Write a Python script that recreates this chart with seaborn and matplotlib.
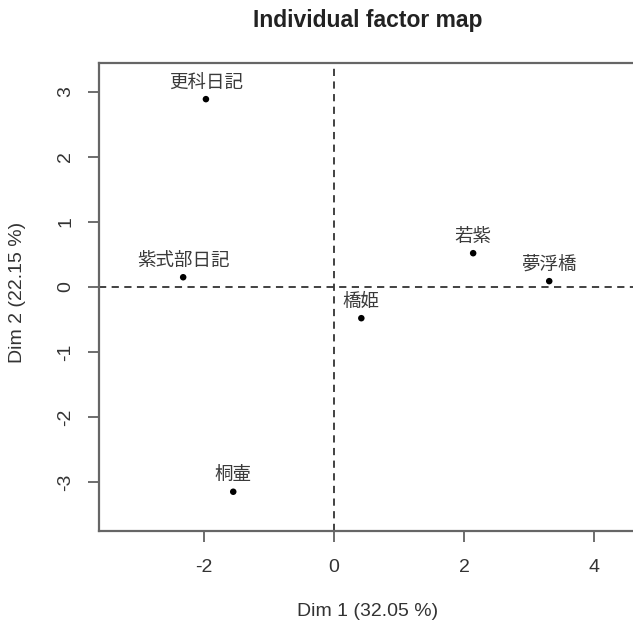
import matplotlib
matplotlib.use("Agg")
import matplotlib.pyplot as plt
import seaborn as sns
import pandas as pd

names = ["更科日記", "紫式部日記", "若紫", "夢浮橋", "橋姫", "桐壷"]
dim1 = [-1.97, -2.32, 2.14, 3.31, 0.42, -1.55]
dim2 = [2.89, 0.15, 0.52, 0.09, -0.48, -3.15]
xticks = [-2, 0, 2, 4]
yticks = [-3, -2, -1, 0, 1, 2, 3]

df = pd.DataFrame({"name": names, "Dim1": dim1, "Dim2": dim2})

sns.set_style("white")
plt.rcParams["font.family"] = ["Liberation Sans", "Noto Sans CJK JP", "DejaVu Sans"]

W, H = 633, 630
fig = plt.figure(figsize=(W / 100, H / 100), dpi=100)
L, R, T, B = 99.3, 637, 63, 531
ax = fig.add_axes([L / W, 1 - B / H, (R - L) / W, (B - T) / H])

ax.axhline(0, color="#333333", lw=1.3, ls=(0, (4, 3)), zorder=1)
ax.axvline(0, color="#333333", lw=1.3, ls=(0, (4, 3)), zorder=1)

sns.scatterplot(data=df, x="Dim1", y="Dim2", ax=ax, color="black", s=22,
                edgecolor="none", zorder=3, legend=False)

for n, x, y in zip(names, dim1, dim2):
    ax.annotate(n, (x, y), xytext=(0, 11.8), textcoords="offset points",
                ha="center", va="center", fontsize=13.3, color="#3a3a3a",
                family=["Noto Sans CJK JP", "DejaVu Sans"])

ax.set_xlim(-3.61, 4.66)
ax.set_ylim(-3.754, 3.446)
ax.set_xticks(xticks)
ax.set_yticks(yticks)
ax.set_xticklabels([str(v) for v in xticks])
ax.set_yticklabels([str(v) for v in yticks], rotation=90, va="center")

for s in ["left", "bottom", "top"]:
    ax.spines[s].set_color("#666666")
    ax.spines[s].set_linewidth(1.6)
ax.spines["right"].set_visible(False)

ax.tick_params(axis="both", direction="out", length=8, width=1.2, color="#555555",
               labelsize=14, labelcolor="#333333", bottom=True, left=True)
ax.tick_params(axis="x", pad=12)
ax.tick_params(axis="y", pad=10)

ax.set_xlabel("Dim 1 (32.05 %)", fontsize=14, color="#333333")
ax.set_ylabel("Dim 2 (22.15 %)", fontsize=14, color="#333333")
ax.xaxis.set_label_coords((368 - L) / (R - L), (B - 612) / (B - T))
ax.yaxis.set_label_coords((18 - L) / (R - L), 0.51)
ax.xaxis.label.set_va("center")
ax.yaxis.label.set_va("center")

fig.text(368 / W, 1 - 20 / H, "Individual factor map", ha="center", va="center",
         fontsize=16.5, fontweight="bold", color="#222222")

fig.savefig("out.png", dpi=100, facecolor="white")
